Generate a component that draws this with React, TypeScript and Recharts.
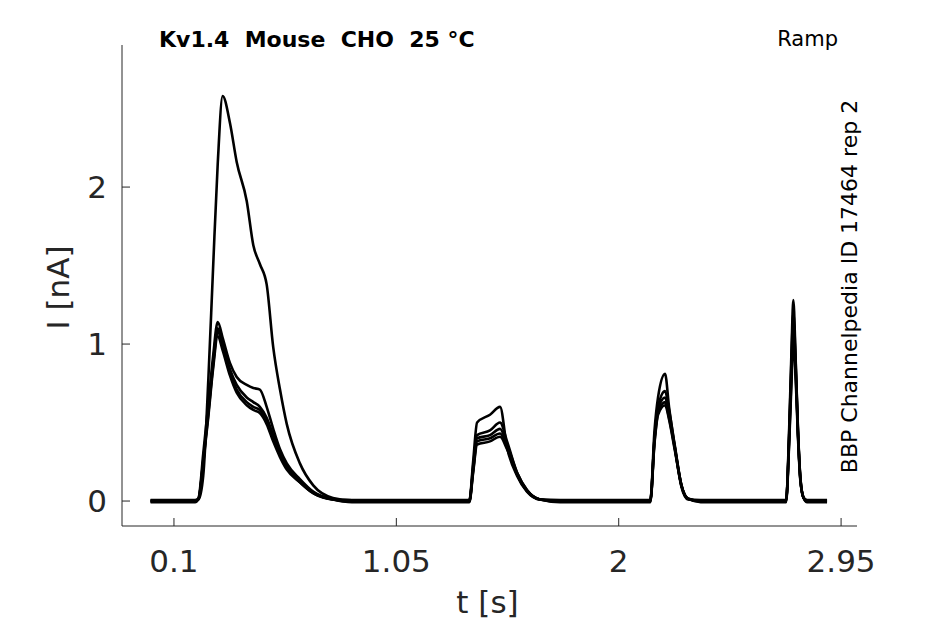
import { Line, LineChart, XAxis, YAxis } from "recharts";

// sample times [s] shared by every sweep
const T = [
  0, 0.19, 0.205, 0.225, 0.247, 0.267, 0.287, 0.308, 0.339, 0.368, 0.411,
  0.439, 0.467, 0.496, 0.524, 0.553, 0.582, 0.638, 0.695, 0.779, 0.86, 1.0,
  1.2, 1.362, 1.378, 1.395, 1.45, 1.493, 1.523, 1.566, 1.608, 1.664, 1.75,
  2.0, 2.135, 2.153, 2.168, 2.198, 2.215, 2.239, 2.268, 2.296, 2.35, 2.6,
  2.715, 2.728, 2.738, 2.746, 2.756, 2.766, 2.776, 2.79, 2.805, 2.89,
];

// current [nA] per sweep
const SWEEP_A = [
  0.004, 0.004, 0.01, 0.16, 0.78, 1.48, 2.15, 2.58, 2.41, 2.16, 1.91, 1.63,
  1.51, 1.38, 0.98, 0.71, 0.49, 0.24, 0.1, 0.02, 0.004, 0.004, 0.004, 0.004,
  0.25, 0.5, 0.55, 0.6, 0.34, 0.16, 0.06, 0.01, 0.004, 0.004, 0.004, 0.45,
  0.66, 0.81, 0.6, 0.35, 0.09, 0.01, 0.004, 0.004, 0.004, 0.45, 0.95, 1.28,
  0.9, 0.45, 0.15, 0.02, 0.004, 0.004,
];
const SWEEP_B = [
  -0.004, -0.004, 0.02, 0.3, 0.62, 0.92, 1.14, 1.04, 0.88, 0.79, 0.74, 0.72,
  0.71, 0.6, 0.46, 0.33, 0.24, 0.14, 0.06, 0.012, -0.004, -0.004, -0.004,
  -0.004, 0.22, 0.42, 0.45, 0.5, 0.38, 0.18, 0.07, 0.01, -0.004, -0.004,
  -0.004, 0.4, 0.6, 0.7, 0.58, 0.36, 0.1, 0.015, -0.004, -0.004, -0.004,
  0.42, 0.9, 1.2, 0.88, 0.44, 0.15, 0.02, -0.004, -0.004,
];
const SWEEP_C = [
  0, 0, 0.015, 0.26, 0.58, 0.88, 1.1, 1.0, 0.84, 0.74, 0.66, 0.63, 0.6, 0.53,
  0.42, 0.3, 0.22, 0.13, 0.055, 0.01, 0, 0, 0, 0, 0.2, 0.4, 0.42, 0.46, 0.36,
  0.18, 0.07, 0.01, 0, 0, 0, 0.4, 0.58, 0.66, 0.55, 0.35, 0.1, 0.015, 0, 0, 0,
  0.4, 0.85, 1.15, 0.85, 0.43, 0.14, 0.02, 0, 0,
];
const SWEEP_D = [
  0.007, 0.007, 0.015, 0.25, 0.56, 0.86, 1.08, 0.98, 0.82, 0.71, 0.63, 0.6,
  0.58, 0.51, 0.4, 0.29, 0.21, 0.12, 0.05, 0.01, 0.007, 0.007, 0.007, 0.007,
  0.19, 0.38, 0.4, 0.43, 0.34, 0.17, 0.065, 0.01, 0.007, 0.007, 0.007, 0.38,
  0.56, 0.63, 0.53, 0.34, 0.1, 0.015, 0.007, 0.007, 0.007, 0.38, 0.8, 1.1,
  0.82, 0.42, 0.14, 0.02, 0.007, 0.007,
];
const SWEEP_E = [
  -0.007, -0.007, 0.012, 0.24, 0.54, 0.84, 1.05, 0.96, 0.8, 0.69, 0.61, 0.58,
  0.56, 0.49, 0.38, 0.28, 0.2, 0.12, 0.05, 0.01, -0.007, -0.007, -0.007,
  -0.007, 0.18, 0.36, 0.38, 0.41, 0.33, 0.17, 0.065, 0.01, -0.007, -0.007,
  -0.007, 0.37, 0.55, 0.61, 0.52, 0.33, 0.1, 0.015, -0.007, -0.007, -0.007,
  0.36, 0.75, 1.03, 0.78, 0.4, 0.13, 0.02, -0.007, -0.007,
];

const SWEEPS = [SWEEP_A, SWEEP_B, SWEEP_C, SWEEP_D, SWEEP_E];
const X_TICKS = [0.1, 1.05, 2, 2.95];
const Y_TICKS = [0, 1, 2];

const rows = T.map((t, i) => {
  const row: Record<string, number> = { t };
  SWEEPS.forEach((s, k) => {
    row[`s${k}`] = s[i];
  });
  return row;
});

const FONT = "'DejaVu Sans', sans-serif";
const AXIS_COLOR = "#262626";

const AXIS_PROPS = {
  stroke: AXIS_COLOR,
  tick: { fill: AXIS_COLOR, fontSize: 31, fontFamily: FONT },
  tickSize: -8,
} as const;

export default function App() {
  return (
    <div style={{ position: "absolute", left: 0, top: 0, width: 945, height: 624, background: "#fff" }}>
      <LineChart
        width={945}
        height={624}
        data={rows}
        margin={{ top: 45, right: 88, bottom: 38, left: 42 }}
      >
        <XAxis
          type="number"
          dataKey="t"
          domain={[-0.122, 3.018]}
          ticks={X_TICKS}
          allowDataOverflow
          height={60}
          tickMargin={32}
          {...AXIS_PROPS}
        />
        <YAxis
          type="number"
          domain={[-0.159, 2.905]}
          ticks={Y_TICKS}
          allowDataOverflow
          width={80}
          tickMargin={23}
          {...AXIS_PROPS}
        />
        {SWEEPS.map((_, k) => (
          <Line
            key={k}
            type="monotone"
            dataKey={`s${k}`}
            stroke="#000"
            strokeWidth={2.6}
            dot={false}
            isAnimationActive={false}
          />
        ))}
      </LineChart>
      <svg
        width={945}
        height={624}
        style={{ position: "absolute", left: 0, top: 0, pointerEvents: "none" }}
        fontFamily={FONT}
      >
        <text x={159} y={47} fontSize={22} fontWeight="bold" fill="#000" style={{ whiteSpace: "pre" }}>
          {"Kv1.4  Mouse  CHO  25 °C"}
        </text>
        <text x={838} y={46} fontSize={21} textAnchor="end" fill="#000">
          Ramp
        </text>
        <text
          transform="translate(857 286.5) rotate(-90)"
          fontSize={22}
          textAnchor="middle"
          fill="#000"
        >
          BBP Channelpedia ID 17464 rep 2
        </text>
        <text
          transform="translate(69 287.5) rotate(-90)"
          fontSize={31}
          textAnchor="middle"
          fill={AXIS_COLOR}
        >
          I [nA]
        </text>
        <text x={487.5} y={612.5} fontSize={31} textAnchor="middle" fill={AXIS_COLOR}>
          t [s]
        </text>
      </svg>
    </div>
  );
}
